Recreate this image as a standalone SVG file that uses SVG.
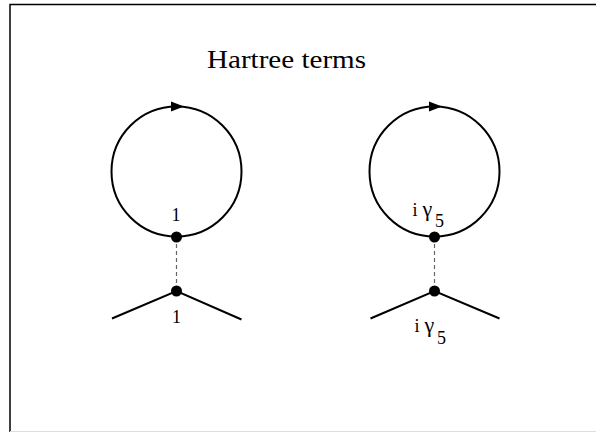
<svg xmlns="http://www.w3.org/2000/svg" width="596" height="432" viewBox="0 0 596 432">
<style>
.loop{fill:none;stroke:#000;stroke-width:2}
.leg{fill:none;stroke:#000;stroke-width:2;stroke-linecap:butt}
.dash{fill:none;stroke:#666;stroke-width:1.2;stroke-dasharray:4 3}
.dot{fill:#000}
.arr{fill:#000}
.lbl{font-family:"Liberation Serif","DejaVu Serif",serif;font-size:18px;fill:#000}
.g{font-size:22px}
.title{font-family:"Liberation Serif","DejaVu Serif",serif;font-size:25px;fill:#000}
</style>
<rect x="0" y="0" width="596" height="432" fill="#fff"/>
<path d="M10 432 V4.5 H596" fill="none" stroke="#000" stroke-width="1.5"/>
<line x1="10" y1="431.5" x2="596" y2="431.5" stroke="#ddd" stroke-width="1"/>
<text class="title" x="207" y="68" textLength="159" lengthAdjust="spacingAndGlyphs">Hartree terms</text>
<g id="connectors">
<line class="dash" x1="176.5" y1="237" x2="176.5" y2="291"/>
<line class="dash" x1="434.5" y1="237" x2="434.5" y2="291"/>
</g>
<g id="loop1">
<circle class="loop" cx="176.5" cy="171.5" r="65"/>
<polygon class="arr" points="171,101.5 184,106.5 171,111.5"/>
<circle class="dot" cx="176.5" cy="237" r="5.5"/>
<text class="lbl" x="176" y="221" text-anchor="middle">1</text>
</g>
<g id="vertex1">
<polyline class="leg" points="112,318.5 176.5,291 241.5,319.5"/>
<circle class="dot" cx="176.5" cy="291" r="5.5"/>
<text class="lbl" x="176.5" y="323" text-anchor="middle">1</text>
</g>
<g id="loop2">
<circle class="loop" cx="434.5" cy="171.5" r="65"/>
<polygon class="arr" points="429,101.5 442,106.5 429,111.5"/>
<circle class="dot" cx="434.5" cy="237" r="5.5"/>
<text class="lbl" x="412.5" y="215.5">i</text>
<text class="lbl g" x="422.5" y="215.5">γ</text>
<text class="lbl" x="435" y="226.5">5</text>
</g>
<g id="vertex2">
<polyline class="leg" points="370.5,318.5 434.5,291 499.5,318.5"/>
<circle class="dot" cx="434.5" cy="291" r="5.5"/>
<text class="lbl" x="414.5" y="332">i</text>
<text class="lbl g" x="424.5" y="332">γ</text>
<text class="lbl" x="437" y="344">5</text>
</g>
</svg>
